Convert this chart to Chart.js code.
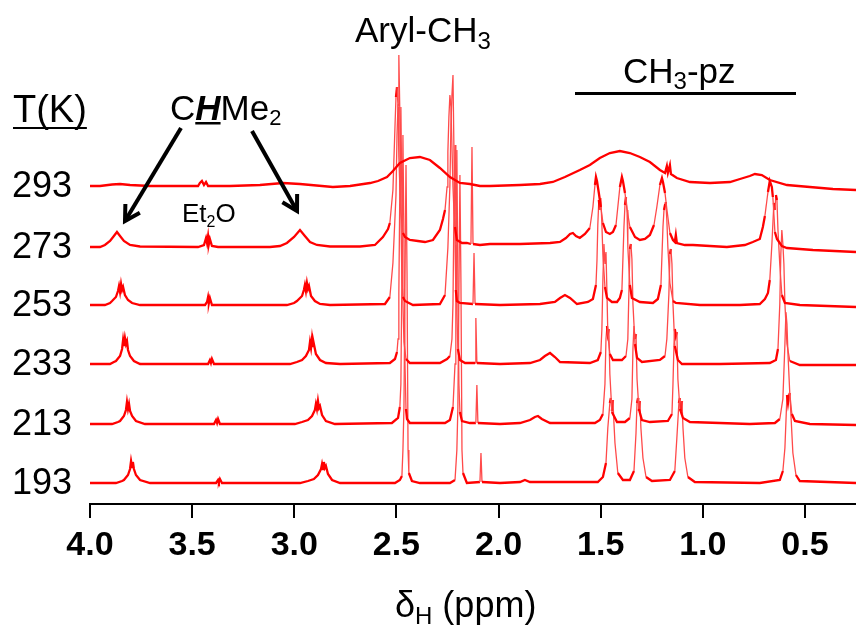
<!DOCTYPE html>
<html lang="en">
<head>
<meta charset="UTF-8">
<title>VT 1H NMR</title>
<script src="https://cdn.jsdelivr.net/npm/chart.js@4"></script>
<style>
  body { margin: 0; background: #fff; }
  #wrap { position: relative; width: 856px; height: 642px; }
</style>
</head>
<body>
<div id="wrap"><canvas id="nmr"></canvas></div>
<script>
// temperatures (K), top trace first, and each trace's vertical offset
const temps = ['293', '273', '253', '233', '213', '193'];
const offsets = [318, 257, 199, 140, 80, 21];
// x-axis ticks (ppm)
const ppmTicks = [4.0, 3.5, 3.0, 2.5, 2.0, 1.5, 1.0, 0.5];

// traces: [ppm, intensity above the trace's own baseline]
const t293 = [[4.000,0],[3.951,0],[3.892,1.5],[3.853,2],[3.804,1],[3.706,0],[3.559,0],[3.471,0],[3.462,3],[3.452,5],[3.442,1],[3.432,4],[3.422,0],[3.315,0],[3.168,1],[3.055,3],[2.972,2],[2.811,-1],[2.727,0],[2.629,3],[2.590,5],[2.546,9],[2.517,15],[2.483,23],[2.434,28],[2.385,29],[2.336,26],[2.287,18],[2.238,9],[2.189,3],[2.140,2],[2.091,0],[2.042,0],[1.895,1],[1.797,2],[1.734,4],[1.675,9],[1.602,16],[1.553,21],[1.504,28],[1.455,33],[1.406,35],[1.357,33],[1.308,29],[1.259,24],[1.210,16],[1.185,13],[1.176,20],[1.171,13],[1.161,21],[1.156,12],[1.127,8],[1.063,4],[0.965,3],[0.867,4],[0.818,7],[0.770,10],[0.745,12],[0.711,11],[0.672,6],[0.588,1],[0.476,-1],[0.363,-3],[0.250,-4]];

const t273 = [[4.000,0],[3.951,0],[3.927,2],[3.902,6],[3.883,11],[3.868,15],[3.853,11],[3.834,6],[3.804,2],[3.755,0.5],[3.471,0],[3.442,2],[3.432,9],[3.427,4],[3.422,11],[3.418,3],[3.413,8],[3.403,1],[3.373,0],[3.119,0],[3.070,1],[3.036,4],[3.001,10],[2.972,17],[2.948,11],[2.923,5],[2.889,2],[2.825,0.5],[2.678,0.5],[2.605,2],[2.566,10],[2.541,18],[2.532,24],[2.517,57],[2.507,120],[2.502,150],[2.497,160],[2.492,140],[2.488,90],[2.483,60],[2.478,35],[2.468,14],[2.458,10],[2.434,7],[2.395,6],[2.360,5],[2.321,7],[2.287,17],[2.272,28],[2.262,37],[2.252,60],[2.248,95],[2.243,130],[2.238,152],[2.233,140],[2.228,100],[2.223,60],[2.218,35],[2.213,20],[2.204,7],[2.179,4],[2.155,4],[2.135,3],[2.130,100],[2.125,3],[2.091,2],[2.042,3],[1.895,3],[1.748,4],[1.699,5],[1.670,9],[1.650,13],[1.636,14],[1.621,11],[1.602,9],[1.577,13],[1.553,19],[1.538,40],[1.528,62],[1.523,70],[1.518,66],[1.509,54],[1.499,40],[1.489,24],[1.474,15],[1.455,13],[1.440,15],[1.425,22],[1.416,40],[1.406,60],[1.396,70],[1.391,66],[1.381,54],[1.371,38],[1.357,20],[1.332,10],[1.308,7],[1.283,8],[1.259,12],[1.239,22],[1.225,40],[1.210,62],[1.200,69],[1.195,65],[1.185,54],[1.176,38],[1.161,14],[1.146,7],[1.137,5],[1.132,12],[1.127,4],[1.088,2],[1.048,2],[0.882,0],[0.794,2],[0.755,5],[0.721,8],[0.706,20],[0.696,31],[0.681,55],[0.672,66],[0.662,60],[0.657,50],[0.647,15],[0.637,8],[0.613,1],[0.588,-1],[0.461,-3],[0.250,-5]];

const t253 = [[4.000,0],[3.927,0],[3.902,2],[3.892,4],[3.873,8],[3.863,14],[3.858,19],[3.853,13],[3.848,21],[3.843,15],[3.838,18],[3.829,10],[3.814,5],[3.794,2],[3.755,0],[3.437,0],[3.427,3],[3.422,8],[3.418,2],[3.413,7],[3.403,0],[3.036,0],[3.001,2],[2.987,4],[2.962,9],[2.953,15],[2.948,20],[2.943,14],[2.938,22],[2.933,16],[2.928,19],[2.918,9],[2.899,4],[2.874,1],[2.825,0],[2.556,1],[2.532,8],[2.517,42],[2.502,110],[2.497,170],[2.492,200],[2.488,250],[2.483,190],[2.478,90],[2.473,25],[2.468,8],[2.458,4],[2.419,0],[2.287,1],[2.262,10],[2.248,57],[2.238,120],[2.233,180],[2.228,210],[2.223,230],[2.218,150],[2.213,60],[2.209,15],[2.204,4],[2.189,2],[2.125,1],[2.120,52],[2.115,1],[1.993,0],[1.797,1],[1.724,3],[1.699,7],[1.675,10],[1.650,7],[1.616,1],[1.562,3],[1.538,6],[1.523,20],[1.518,45],[1.514,80],[1.509,105],[1.504,95],[1.499,107],[1.494,80],[1.489,50],[1.479,18],[1.469,7],[1.445,3],[1.420,3],[1.406,7],[1.396,15],[1.386,78],[1.381,100],[1.376,108],[1.371,95],[1.367,58],[1.357,20],[1.347,7],[1.308,3],[1.244,2],[1.220,6],[1.205,20],[1.195,78],[1.190,95],[1.185,100],[1.181,103],[1.176,85],[1.171,58],[1.161,22],[1.146,4],[1.132,2],[1.014,0],[0.818,0],[0.721,1],[0.696,6],[0.681,12],[0.672,25],[0.662,60],[0.652,102],[0.647,95],[0.642,110],[0.637,105],[0.632,75],[0.623,40],[0.613,10],[0.598,2],[0.525,0],[0.250,-2]];

const t233 = [[4.000,0],[3.902,0],[3.883,2],[3.873,3],[3.853,8],[3.843,15],[3.838,24],[3.834,18],[3.829,26],[3.824,20],[3.819,23],[3.814,14],[3.804,8],[3.785,3],[3.755,0],[3.422,0],[3.413,4],[3.408,1],[3.403,5],[3.393,0],[3.021,0],[2.987,2],[2.962,4],[2.943,8],[2.928,14],[2.923,22],[2.918,16],[2.913,26],[2.908,18],[2.904,20],[2.894,10],[2.874,4],[2.845,1],[2.776,0],[2.532,1],[2.507,5],[2.497,12],[2.492,25],[2.488,70],[2.483,180],[2.478,257],[2.473,160],[2.468,60],[2.463,22],[2.453,5],[2.434,1],[2.287,1],[2.252,5],[2.238,8],[2.228,25],[2.223,60],[2.218,160],[2.213,219],[2.209,150],[2.204,50],[2.199,15],[2.189,4],[2.164,1],[2.115,1],[2.111,46],[2.106,1],[1.993,0],[1.846,1],[1.797,4],[1.773,8],[1.748,11],[1.724,7],[1.699,2],[1.553,1],[1.514,4],[1.499,12],[1.494,35],[1.489,85],[1.484,120],[1.479,100],[1.474,112],[1.469,70],[1.465,30],[1.455,10],[1.440,4],[1.396,4],[1.376,8],[1.367,25],[1.362,70],[1.357,115],[1.352,120],[1.347,105],[1.342,60],[1.332,20],[1.322,6],[1.298,2],[1.210,4],[1.185,8],[1.176,25],[1.166,70],[1.161,110],[1.156,115],[1.151,100],[1.146,60],[1.137,18],[1.122,4],[1.102,0],[0.916,0],[0.672,1],[0.642,4],[0.632,15],[0.623,60],[0.618,110],[0.613,134],[0.608,120],[0.603,100],[0.598,60],[0.588,20],[0.574,3],[0.525,-1],[0.250,-1]];

const t213 = [[4.000,0],[3.892,0],[3.863,2],[3.853,3],[3.834,8],[3.824,14],[3.819,22],[3.814,15],[3.809,20],[3.804,13],[3.794,8],[3.775,3],[3.731,0],[3.393,0],[3.383,4],[3.378,1],[3.373,5],[3.364,0],[2.997,0],[2.962,2],[2.933,4],[2.913,8],[2.899,14],[2.894,20],[2.889,15],[2.884,23],[2.879,16],[2.874,18],[2.864,9],[2.845,3],[2.801,0],[2.522,1],[2.492,6],[2.483,17],[2.478,40],[2.473,150],[2.468,289],[2.463,180],[2.458,60],[2.453,15],[2.448,5],[2.434,1],[2.262,1],[2.238,4],[2.223,17],[2.213,60],[2.209,170],[2.204,274],[2.199,140],[2.194,40],[2.189,12],[2.179,3],[2.140,1],[2.111,1],[2.106,39],[2.101,1],[1.993,0],[1.895,1],[1.846,4],[1.822,7],[1.807,8],[1.788,5],[1.748,1],[1.528,1],[1.504,4],[1.489,10],[1.479,40],[1.474,85],[1.469,98],[1.465,90],[1.460,95],[1.455,50],[1.445,12],[1.420,2],[1.381,2],[1.357,6],[1.347,25],[1.342,75],[1.337,98],[1.332,85],[1.327,90],[1.322,45],[1.313,15],[1.298,4],[1.259,2],[1.171,3],[1.151,10],[1.146,40],[1.141,80],[1.137,95],[1.132,88],[1.127,92],[1.122,45],[1.112,15],[1.097,6],[1.063,2],[0.770,0],[0.647,1],[0.623,5],[0.608,25],[0.598,80],[0.593,112],[0.588,100],[0.583,70],[0.574,30],[0.564,10],[0.549,3],[0.476,0],[0.250,-1]];

const t193 = [[4.000,0],[3.873,0],[3.843,2],[3.834,3],[3.814,8],[3.804,14],[3.799,22],[3.794,16],[3.790,21],[3.785,14],[3.775,8],[3.755,3],[3.706,0],[3.383,0],[3.373,3],[3.369,1],[3.364,4],[3.354,0],[2.972,0],[2.933,2],[2.904,4],[2.884,8],[2.869,14],[2.864,19],[2.859,14],[2.855,21],[2.850,15],[2.845,17],[2.835,9],[2.815,3],[2.776,0],[2.507,0],[2.483,3],[2.473,7],[2.468,33],[2.463,76],[2.458,200],[2.453,318],[2.448,210],[2.443,33],[2.439,10],[2.424,2],[2.385,0],[2.238,0],[2.213,3],[2.204,33],[2.199,76],[2.194,190],[2.189,308],[2.184,200],[2.179,33],[2.174,10],[2.155,0],[2.091,1],[2.086,30],[2.081,1],[1.993,0],[1.895,1],[1.871,3],[1.846,1],[1.514,1],[1.489,6],[1.474,20],[1.465,55],[1.455,80],[1.450,85],[1.445,72],[1.440,83],[1.435,60],[1.430,40],[1.416,10],[1.391,3],[1.357,3],[1.337,12],[1.327,50],[1.322,80],[1.317,85],[1.313,72],[1.308,82],[1.303,55],[1.293,25],[1.278,6],[1.249,2],[1.161,3],[1.137,12],[1.127,45],[1.117,80],[1.112,85],[1.107,72],[1.102,82],[1.097,55],[1.088,25],[1.073,6],[1.039,1],[0.721,0],[0.623,3],[0.608,12],[0.598,35],[0.588,88],[0.583,80],[0.579,86],[0.574,90],[0.569,70],[0.559,30],[0.544,8],[0.525,2],[0.250,0]];

const traces = [t293, t273, t253, t233, t213, t193];

const FONT = '"Liberation Sans", Arial, sans-serif';

// draw a run of text pieces (for sub-scripts / mixed styles), returns end x
function drawRuns(ctx, x, y, parts) {
  for (const p of parts) {
    ctx.font = p.f;
    ctx.fillText(p.t, x, y + (p.dy || 0));
    const w = ctx.measureText(p.t).width;
    if (p.u) ctx.fillRect(x, y + p.u, w, 2.5);
    x += w;
  }
  return x;
}

function arrow(ctx, x1, y1, x2, y2) {
  const a = Math.atan2(y1 - y2, x1 - x2);
  ctx.lineWidth = 4;
  ctx.lineCap = 'butt';
  ctx.lineJoin = 'miter';
  ctx.beginPath();
  ctx.moveTo(x1, y1);
  ctx.lineTo(x2, y2);
  ctx.stroke();
  ctx.beginPath();
  ctx.moveTo(x2 + 17 * Math.cos(a - 0.52), y2 + 17 * Math.sin(a - 0.52));
  ctx.lineTo(x2, y2);
  ctx.lineTo(x2 + 17 * Math.cos(a + 0.52), y2 + 17 * Math.sin(a + 0.52));
  ctx.stroke();
}

const labels = {
  id: 'labels',
  afterDraw(chart) {
    const ctx = chart.ctx;
    const ys = chart.scales.y;
    ctx.save();
    ctx.fillStyle = '#000';
    ctx.strokeStyle = '#000';
    ctx.textBaseline = 'alphabetic';

    // temperature labels
    ctx.textAlign = 'center';
    ctx.font = '36px ' + FONT;
    temps.forEach((t, i) => ctx.fillText(t, 42, ys.getPixelForValue(offsets[i]) + 11));
    ctx.textAlign = 'left';

    // T(K) header
    const tEnd = drawRuns(ctx, 13, 122, [{ t: 'T(K)', f: '38px ' + FONT }]);
    ctx.fillRect(13, 127, tEnd - 13, 2);

    // CHMe2
    drawRuns(ctx, 170, 120, [
      { t: 'C', f: '35px ' + FONT },
      { t: 'H', f: 'italic bold 35px ' + FONT, u: 2 },
      { t: 'Me', f: '35px ' + FONT },
      { t: '2', f: '22px ' + FONT, dy: 5 }
    ]);
    arrow(ctx, 181, 128, 125, 221);
    arrow(ctx, 252, 131, 297, 211);

    // Et2O
    drawRuns(ctx, 182, 222, [
      { t: 'Et', f: '26px ' + FONT },
      { t: '2', f: '16px ' + FONT, dy: 5 },
      { t: 'O', f: '26px ' + FONT }
    ]);

    // Aryl-CH3
    drawRuns(ctx, 355, 42, [
      { t: 'Aryl-CH', f: '35px ' + FONT },
      { t: '3', f: '24px ' + FONT, dy: 7 }
    ]);

    // CH3-pz with bar
    drawRuns(ctx, 623, 83, [
      { t: 'CH', f: '35px ' + FONT },
      { t: '3', f: '24px ' + FONT, dy: 6 },
      { t: '-pz', f: '35px ' + FONT }
    ]);
    ctx.fillRect(575, 92, 221, 3);

    // axis title
    drawRuns(ctx, 395, 617, [
      { t: 'δ', f: '36px ' + FONT },
      { t: 'H', f: '24px ' + FONT, dy: 7 },
      { t: ' (ppm)', f: '36px ' + FONT }
    ]);
    ctx.restore();
  }
};

// steep segments (narrow peaks) look thinner and lighter in the original
const steep = c => Math.abs(c.p1.y - c.p0.y) > 3 * Math.abs(c.p1.x - c.p0.x) + 8;

const datasets = traces.map((tr, i) => ({
  label: temps[i] + ' K',
  data: tr.map(p => ({ x: p[0], y: p[1] + offsets[i] })),
  borderColor: '#ff0000',
  borderWidth: 2.3,
  pointRadius: 0,
  tension: 0,
  fill: false,
  segment: {
    borderColor: c => steep(c) ? '#ff4a4a' : '#ff0000',
    borderWidth: c => steep(c) ? 1.3 : 2.3
  }
}));

new Chart(document.getElementById('nmr'), {
  type: 'line',
  data: { datasets },
  options: {
    responsive: true,
    maintainAspectRatio: false,
    animation: false,
    layout: { padding: { left: 90, right: 0, top: 0, bottom: 0 } },
    plugins: { legend: { display: false }, tooltip: { enabled: false } },
    scales: {
      x: {
        type: 'linear',
        reverse: true,
        min: 0.25,
        max: 4.0,
        afterBuildTicks: s => { s.ticks = ppmTicks.map(v => ({ value: v })); },
        afterFit: s => { s.height = 138; },
        grid: { drawOnChartArea: false, drawTicks: true, tickLength: 14, color: '#000', lineWidth: 2 },
        border: { display: true, color: '#000', width: 2 },
        ticks: {
          autoSkip: false,
          maxRotation: 0,
          padding: 7,
          color: '#000',
          font: { family: FONT, size: 34, weight: 'bold' },
          callback: v => v.toFixed(1)
        }
      },
      y: { display: false, min: 0, max: 504 }
    }
  },
  plugins: [labels]
});
</script>
</body>
</html>
